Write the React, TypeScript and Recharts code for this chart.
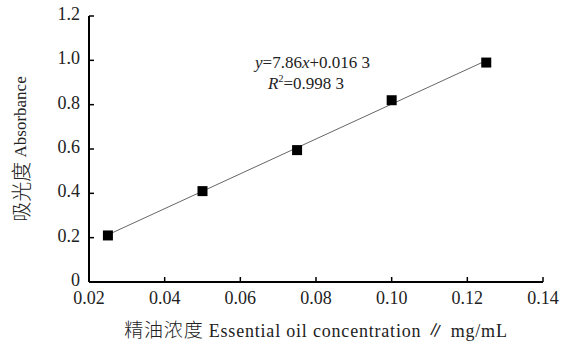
import React from "react";
import {
  ScatterChart,
  Scatter,
  XAxis,
  YAxis,
  Label,
  Customized,
} from "recharts";

// measured points (concentration mg/mL, absorbance)
const concentrations = [0.025, 0.05, 0.075, 0.1, 0.125];
const absorbances = [0.21, 0.41, 0.595, 0.82, 0.99];

// fitted line end points
const fitX = [0.025, 0.125];
const fitY = [0.213, 0.999];

const xTicks = [0.02, 0.04, 0.06, 0.08, 0.1, 0.12, 0.14];
const yTicks = [0, 0.2, 0.4, 0.6, 0.8, 1.0, 1.2];

const points = concentrations.map((x, i) => ({ x, y: absorbances[i] }));
const fitLine = fitX.map((x, i) => ({ x, y: fitY[i] }));

const FONT = "'Liberation Serif', 'Noto Sans CJK SC', serif";
const CJK = "'Noto Sans CJK SC', sans-serif";

const XTick = (props: any) => {
  const { x, y, payload } = props;
  return (
    <g>
      <line x1={x} x2={x} y1={y} y2={y - 5} stroke="#000" strokeWidth={1.5} />
      <text
        x={x}
        y={y + 22}
        textAnchor="middle"
        fontSize={18}
        fontFamily={FONT}
        fill="#222"
      >
        {payload.value.toFixed(2)}
      </text>
    </g>
  );
};

const YTick = (props: any) => {
  const { x, y, payload } = props;
  return (
    <g>
      <line x1={x} x2={x + 5} y1={y} y2={y} stroke="#000" strokeWidth={1.5} />
      <text
        x={x - 9}
        y={y + 4}
        textAnchor="end"
        fontSize={18}
        fontFamily={FONT}
        fill="#222"
      >
        {payload.value === 0 ? "0" : payload.value.toFixed(1)}
      </text>
    </g>
  );
};

const Square = (props: any) => {
  const { cx, cy } = props;
  return <rect x={cx - 5} y={cy - 5} width={10} height={10} fill="#000" />;
};

const NoShape = () => <g />;

const YLabel = (props: any) => {
  const vb = props.viewBox || {};
  const cx = 20;
  const cy = vb.y + vb.height / 2;
  return (
    <text
      x={cx}
      y={cy}
      transform={`rotate(-90 ${cx} ${cy})`}
      textAnchor="middle"
      dominantBaseline="central"
      fontSize={17}
      fontFamily={FONT}
      fill="#222"
    >
      <tspan fontFamily={CJK} fontSize={20} fontWeight={300}>吸光度</tspan>
      <tspan> Absorbance</tspan>
    </text>
  );
};

const XLabel = (props: any) => {
  const vb = props.viewBox || {};
  const cx = vb.x + vb.width / 2;
  return (
    <text
      x={cx}
      y={337}
      textAnchor="middle"
      fontSize={18}
      fontFamily={FONT}
      letterSpacing={0.8}
      fill="#222"
    >
      <tspan fontFamily={CJK} fontSize={19} fontWeight={300}>精油浓度</tspan>
      <tspan> Essential oil concentration ∥ mg/mL</tspan>
    </text>
  );
};

const Equation = () => (
  <g fontFamily={FONT} fontSize={17} fill="#222">
    <text x={255} y={68}>
      <tspan fontStyle="italic">y</tspan>=7.86<tspan fontStyle="italic">x</tspan>+0.016 3
    </text>
    <text x={268} y={89}>
      <tspan fontStyle="italic">R</tspan>
      <tspan fontSize={10} dy={-7}>2</tspan>
      <tspan dy={7}>=0.998 3</tspan>
    </text>
  </g>
);

export default function App() {
  return (
    <div style={{ position: "absolute", left: 0, top: 0, background: "#fff" }}>
      <ScatterChart
        width={574}
        height={345}
        margin={{ top: 16, right: 31, bottom: 0, left: 0 }}
      >
        <XAxis
          type="number"
          dataKey="x"
          domain={[0.02, 0.14]}
          ticks={xTicks}
          tickSize={0}
          tickMargin={0}
          tickLine={false}
          tick={<XTick />}
          height={63}
          axisLine={{ stroke: "#000", strokeWidth: 2 }}
          allowDataOverflow
        >
          <Label content={<XLabel />} position="insideBottom" />
        </XAxis>
        <YAxis
          type="number"
          dataKey="y"
          domain={[0, 1.2]}
          ticks={yTicks}
          tickSize={0}
          tickMargin={0}
          tickLine={false}
          tick={<YTick />}
          width={89}
          axisLine={{ stroke: "#000", strokeWidth: 2 }}
          allowDataOverflow
        >
          <Label content={<YLabel />} position="insideLeft" />
        </YAxis>
        <Scatter
          data={fitLine}
          line={{ stroke: "#666", strokeWidth: 1 }}
          shape={<NoShape />}
          isAnimationActive={false}
        />
        <Scatter data={points} shape={<Square />} isAnimationActive={false} />
        <Customized component={<Equation />} />
      </ScatterChart>
    </div>
  );
}
